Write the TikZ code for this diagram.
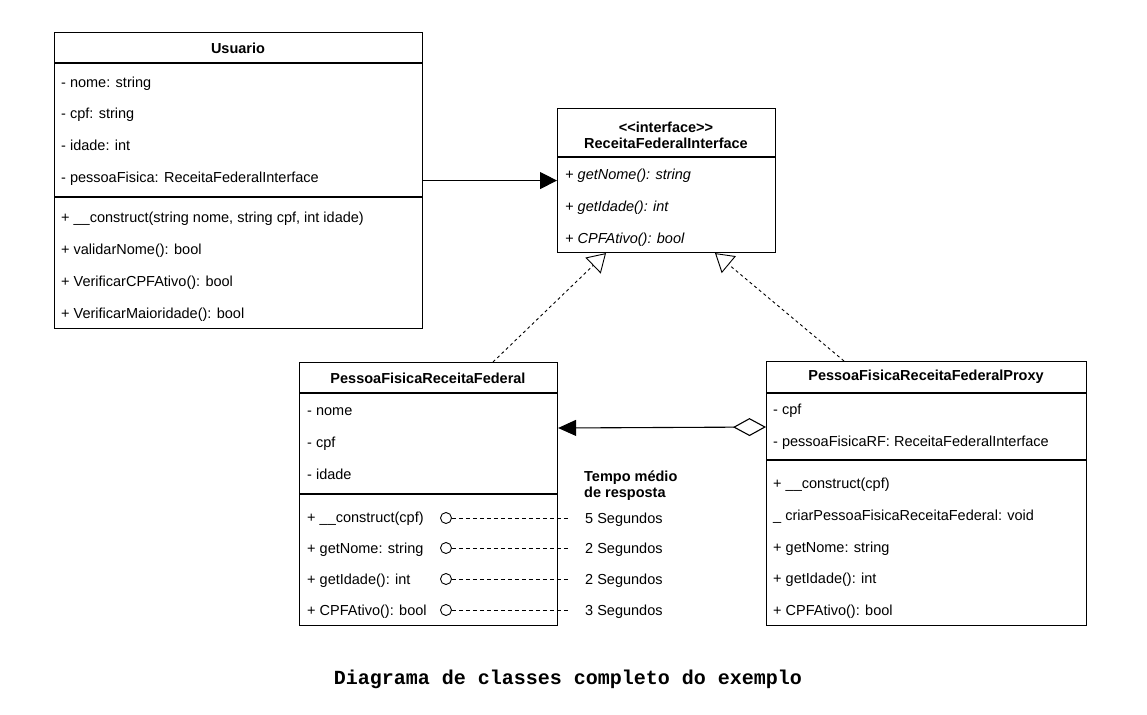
\documentclass[tikz,border=0pt]{standalone}
\usepackage{fontspec}
\setmainfont{Liberation Sans}
\setmonofont{Liberation Mono}
\usetikzlibrary{arrows.meta,calc}
\begin{document}
\begin{tikzpicture}[x=1pt,y=-1pt,
  box/.style={draw, line width=1.1pt, anchor=north west, inner sep=0pt, fill=white},
  sep/.style={line width=1.1pt},
  txt/.style={anchor=mid west, inner sep=0pt, yshift=-3pt, font=\fontsize{14.5}{17}\selectfont},
  itxt/.style={txt, font=\fontsize{14.5}{17}\selectfont\itshape},
  hdr/.style={inner sep=0pt, font=\fontsize{14.5}{16}\selectfont\bfseries, align=center},
  assoc/.style={line width=1.1pt, -{Triangle[length=17pt, width=17pt]}},
  real/.style={line width=0.9pt, dash pattern=on 3pt off 3pt, -{Triangle[open, length=18pt, width=22pt, fill=white]}},
  agg/.style={line width=1.1pt, {Diamond[open, length=33pt, width=18pt, fill=white]}-{Triangle[length=18pt, width=16pt]}},
  port/.style={circle, draw, line width=0.9pt, minimum size=11pt, inner sep=0pt},
  resp/.style={line width=0.9pt, dash pattern=on 4pt off 3pt},
]
\useasboundingbox (0,0) rectangle (1147,714);

% ---------- Usuario ----------
\node[box, minimum width=368pt, minimum height=296pt] (usu) at (54,32) {};
\draw[sep] (usu.west |- 0,63) -- (usu.east |- 0,63);
\draw[sep] (usu.west |- 0,197) -- (usu.east |- 0,197);
\node[hdr] (usuT) at (238,48) {Usuario};
\node[txt] (u1) at (61,82) {- nome: string};
\node[txt] (u2) at (61,113) {- cpf: string};
\node[txt] (u3) at (61,145) {- idade: int};
\node[txt] (u4) at (61,177) {- pessoaFisica: ReceitaFederalInterface};
\node[txt] (u5) at (61,217) {+ \_\_construct(string nome, string cpf, int idade)};
\node[txt] (u6) at (61,249) {+ validarNome(): bool};
\node[txt] (u7) at (61,281) {+ VerificarCPFAtivo(): bool};
\node[txt] (u8) at (61,313) {+ VerificarMaioridade(): bool};

% ---------- Interface ----------
\node[box, minimum width=218pt, minimum height=144pt] (iface) at (557,108) {};
\draw[sep] (iface.west |- 0,157) -- (iface.east |- 0,157);
\node[hdr] (ifaceT) at (666,135) {<{}<interface>{}>\\ReceitaFederalInterface};
\node[itxt] (i1) at (565,174) {+ getNome(): string};
\node[itxt] (i2) at (565,206) {+ getIdade(): int};
\node[itxt] (i3) at (565,238) {+ CPFAtivo(): bool};

% ---------- PessoaFisicaReceitaFederal ----------
\node[box, minimum width=258pt, minimum height=263pt] (pfrf) at (299,362) {};
\draw[sep] (pfrf.west |- 0,393) -- (pfrf.east |- 0,393);
\draw[sep] (pfrf.west |- 0,494) -- (pfrf.east |- 0,494);
\node[hdr] (pfrfT) at (428,378) {PessoaFisicaReceitaFederal};
\node[txt] (p1) at (307,410) {- nome};
\node[txt] (p2) at (307,442) {- cpf};
\node[txt] (p3) at (307,474) {- idade};
\node[txt] (p4) at (307,517) {+ \_\_construct(cpf)};
\node[txt] (p5) at (307,548) {+ getNome: string};
\node[txt] (p6) at (307,579) {+ getIdade(): int};
\node[txt] (p7) at (307,610) {+ CPFAtivo(): bool};

% ---------- Proxy ----------
\node[box, minimum width=320pt, minimum height=264pt] (proxy) at (766,361) {};
\draw[sep] (proxy.west |- 0,393) -- (proxy.east |- 0,393);
\draw[sep] (proxy.west |- 0,460) -- (proxy.east |- 0,460);
\node[hdr] (proxyT) at (926,377) {PessoaFisicaReceitaFederalProxy};
\node[txt] (x1) at (773,409) {- cpf};
\node[txt] (x2) at (773,441) {- pessoaFisicaRF: ReceitaFederalInterface};
\node[txt] (x3) at (773,483) {+ \_\_construct(cpf)};
\node[txt] (x4) at (773,515) {\_ criarPessoaFisicaReceitaFederal: void};
\node[txt] (x5) at (773,547) {+ getNome: string};
\node[txt] (x6) at (773,578) {+ getIdade(): int};
\node[txt] (x7) at (773,610) {+ CPFAtivo(): bool};

% ---------- response times ----------
\node[anchor=west, inner sep=0pt, align=left, font=\fontsize{14.5}{16}\selectfont\bfseries] (tempo) at (584,486) {Tempo médio\\de resposta};
\foreach \n/\y/\s in {1/518/5, 2/548/2, 3/579/2, 4/610/3}{
  \node[port] (c\n) at (446,\y) {};
  \node[txt] (s\n) at (585,\y) {\s{} Segundos};
  \coordinate (e\n) at (570,\y);
  \draw[resp] (c\n.east) -- (e\n);
}

% ---------- connectors ----------
\draw[assoc] (usu.east) -- (usu.east -| iface.west);
\draw[real] ($(pfrf.north west)+(194,0)$) -- ($(iface.south west)+(49,0)$);
\draw[real] ($(proxy.north west)+(78,0)$) -- ($(iface.south west)+(158,0)$);
\draw[agg] ($(proxy.north west)+(0,66)$) -- ($(pfrf.north east)+(0,66)$);

% ---------- caption ----------
\node[inner sep=0pt, font=\ttfamily\bfseries\fontsize{20}{24}\selectfont] (cap) at (568,679) {Diagrama de classes completo do exemplo};
\end{tikzpicture}
\end{document}
